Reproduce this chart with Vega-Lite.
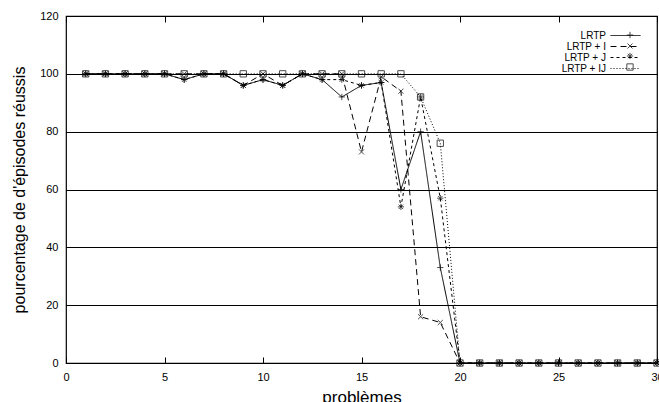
{
  "$schema": "https://vega.github.io/schema/vega-lite/v6.json",
  "width": 591,
  "height": 347,
  "autosize": {"type": "none"},
  "padding": {"left": 66, "top": 16, "right": 2, "bottom": 39},
  "background": "white",
  "config": {
    "font": "Liberation Sans",
    "view": {"stroke": "black", "strokeWidth": 1.2},
    "axis": {"labelFont": "Liberation Sans", "titleFont": "Liberation Sans", "labelColor": "black", "titleColor": "black", "titleFontWeight": "normal", "domain": false, "tickColor": "black"}
  },
  "data": {"values": [
    {"x":1,"s":"LRTP","y":100},{"x":2,"s":"LRTP","y":100},{"x":3,"s":"LRTP","y":100},{"x":4,"s":"LRTP","y":100},{"x":5,"s":"LRTP","y":100},
    {"x":6,"s":"LRTP","y":98},{"x":7,"s":"LRTP","y":100},{"x":8,"s":"LRTP","y":100},{"x":9,"s":"LRTP","y":96},{"x":10,"s":"LRTP","y":98},
    {"x":11,"s":"LRTP","y":96},{"x":12,"s":"LRTP","y":100},{"x":13,"s":"LRTP","y":98},{"x":14,"s":"LRTP","y":92},{"x":15,"s":"LRTP","y":96},
    {"x":16,"s":"LRTP","y":97},{"x":17,"s":"LRTP","y":60},{"x":18,"s":"LRTP","y":80},{"x":19,"s":"LRTP","y":33},{"x":20,"s":"LRTP","y":0},
    {"x":21,"s":"LRTP","y":0},{"x":22,"s":"LRTP","y":0},{"x":23,"s":"LRTP","y":0},{"x":24,"s":"LRTP","y":0},{"x":25,"s":"LRTP","y":0},
    {"x":26,"s":"LRTP","y":0},{"x":27,"s":"LRTP","y":0},{"x":28,"s":"LRTP","y":0},{"x":29,"s":"LRTP","y":0},{"x":30,"s":"LRTP","y":0},

    {"x":1,"s":"LRTP + I","y":100},{"x":2,"s":"LRTP + I","y":100},{"x":3,"s":"LRTP + I","y":100},{"x":4,"s":"LRTP + I","y":100},{"x":5,"s":"LRTP + I","y":100},
    {"x":6,"s":"LRTP + I","y":100},{"x":7,"s":"LRTP + I","y":100},{"x":8,"s":"LRTP + I","y":100},{"x":9,"s":"LRTP + I","y":96},{"x":10,"s":"LRTP + I","y":100},
    {"x":11,"s":"LRTP + I","y":96},{"x":12,"s":"LRTP + I","y":100},{"x":13,"s":"LRTP + I","y":100},{"x":14,"s":"LRTP + I","y":100},{"x":15,"s":"LRTP + I","y":73},
    {"x":16,"s":"LRTP + I","y":99},{"x":17,"s":"LRTP + I","y":94},{"x":18,"s":"LRTP + I","y":16},{"x":19,"s":"LRTP + I","y":14},{"x":20,"s":"LRTP + I","y":0},
    {"x":21,"s":"LRTP + I","y":0},{"x":22,"s":"LRTP + I","y":0},{"x":23,"s":"LRTP + I","y":0},{"x":24,"s":"LRTP + I","y":0},{"x":25,"s":"LRTP + I","y":0},
    {"x":26,"s":"LRTP + I","y":0},{"x":27,"s":"LRTP + I","y":0},{"x":28,"s":"LRTP + I","y":0},{"x":29,"s":"LRTP + I","y":0},{"x":30,"s":"LRTP + I","y":0},

    {"x":1,"s":"LRTP + J","y":100},{"x":2,"s":"LRTP + J","y":100},{"x":3,"s":"LRTP + J","y":100},{"x":4,"s":"LRTP + J","y":100},{"x":5,"s":"LRTP + J","y":100},
    {"x":6,"s":"LRTP + J","y":98},{"x":7,"s":"LRTP + J","y":100},{"x":8,"s":"LRTP + J","y":100},{"x":9,"s":"LRTP + J","y":96},{"x":10,"s":"LRTP + J","y":98},
    {"x":11,"s":"LRTP + J","y":96},{"x":12,"s":"LRTP + J","y":100},{"x":13,"s":"LRTP + J","y":98},{"x":14,"s":"LRTP + J","y":98},{"x":15,"s":"LRTP + J","y":96},
    {"x":16,"s":"LRTP + J","y":97},{"x":17,"s":"LRTP + J","y":54},{"x":18,"s":"LRTP + J","y":92},{"x":19,"s":"LRTP + J","y":57},{"x":20,"s":"LRTP + J","y":0},
    {"x":21,"s":"LRTP + J","y":0},{"x":22,"s":"LRTP + J","y":0},{"x":23,"s":"LRTP + J","y":0},{"x":24,"s":"LRTP + J","y":0},{"x":25,"s":"LRTP + J","y":0},
    {"x":26,"s":"LRTP + J","y":0},{"x":27,"s":"LRTP + J","y":0},{"x":28,"s":"LRTP + J","y":0},{"x":29,"s":"LRTP + J","y":0},{"x":30,"s":"LRTP + J","y":0},

    {"x":1,"s":"LRTP + IJ","y":100},{"x":2,"s":"LRTP + IJ","y":100},{"x":3,"s":"LRTP + IJ","y":100},{"x":4,"s":"LRTP + IJ","y":100},{"x":5,"s":"LRTP + IJ","y":100},
    {"x":6,"s":"LRTP + IJ","y":100},{"x":7,"s":"LRTP + IJ","y":100},{"x":8,"s":"LRTP + IJ","y":100},{"x":9,"s":"LRTP + IJ","y":100},{"x":10,"s":"LRTP + IJ","y":100},
    {"x":11,"s":"LRTP + IJ","y":100},{"x":12,"s":"LRTP + IJ","y":100},{"x":13,"s":"LRTP + IJ","y":100},{"x":14,"s":"LRTP + IJ","y":100},{"x":15,"s":"LRTP + IJ","y":100},
    {"x":16,"s":"LRTP + IJ","y":100},{"x":17,"s":"LRTP + IJ","y":100},{"x":18,"s":"LRTP + IJ","y":92},{"x":19,"s":"LRTP + IJ","y":76},{"x":20,"s":"LRTP + IJ","y":0},
    {"x":21,"s":"LRTP + IJ","y":0},{"x":22,"s":"LRTP + IJ","y":0},{"x":23,"s":"LRTP + IJ","y":0},{"x":24,"s":"LRTP + IJ","y":0},{"x":25,"s":"LRTP + IJ","y":0},
    {"x":26,"s":"LRTP + IJ","y":0},{"x":27,"s":"LRTP + IJ","y":0},{"x":28,"s":"LRTP + IJ","y":0},{"x":29,"s":"LRTP + IJ","y":0},{"x":30,"s":"LRTP + IJ","y":0}
  ]},
  "resolve": {"scale": {"x": "independent", "y": "independent"}},
  "layer": [
    {
      "layer": [
        {
          "mark": {"type": "line", "color": "black", "strokeWidth": 1},
          "encoding": {
            "strokeDash": {"field": "s", "type": "nominal",
              "scale": {"domain": ["LRTP", "LRTP + I", "LRTP + J", "LRTP + IJ"], "range": [[1, 0], [6, 4], [3, 3], [1, 2]]},
              "legend": {"title": null, "orient": "top-right", "offset": 14, "symbolType": "M-3,0L3,0", "symbolSize": 100, "symbolStrokeColor": "black", "symbolStrokeWidth": 1, "labelFontSize": 10, "labelColor": "black", "rowPadding": -5.5, "labelAlign": "right", "labelOffset": -25, "padding": 0}}
          }
        },
        {
          "mark": {"type": "point", "color": "black", "filled": false, "strokeWidth": 1, "size": 40},
          "encoding": {
            "shape": {"field": "s", "type": "nominal",
              "scale": {"domain": ["LRTP", "LRTP + I", "LRTP + J", "LRTP + IJ"], "range": ["M-1,0L1,0M0,-1L0,1", "M-0.8,-0.8L0.8,0.8M-0.8,0.8L0.8,-0.8", "M-1,0L1,0M0,-1L0,1M-0.7,-0.7L0.7,0.7M-0.7,0.7L0.7,-0.7", "square"]},
              "legend": {"title": null, "orient": "none", "legendX": 559, "legendY": 14, "symbolSize": 40, "symbolStrokeColor": "black", "symbolFillColor": "white", "symbolStrokeWidth": 1, "labelFontSize": 10, "labelOpacity": 0, "rowPadding": -5.5, "padding": 0}}
          }
        }
      ],
      "encoding": {
        "x": {"field": "x", "type": "quantitative", "scale": {"domain": [0, 30], "nice": false},
          "axis": {"title": "problèmes", "titleFontSize": 17, "titlePadding": 7, "labelFontSize": 11, "values": [0,5,10,15,20,25,30], "tickSize": -6, "labelPadding": 14, "grid": false, "labelFlush": false}},
        "y": {"field": "y", "type": "quantitative", "scale": {"domain": [0, 120], "nice": false},
          "axis": {"title": "pourcentage de d'épisodes réussis", "titleFontSize": 16, "titlePadding": 12, "labelFontSize": 11, "values": [0,20,40,60,80,100,120], "tickSize": -6, "labelPadding": 14, "grid": true, "gridColor": "black", "gridOpacity": 1, "gridWidth": 1}}
      }
    },
    {
      "mark": {"type": "point", "opacity": 0},
      "encoding": {
        "x": {"field": "x", "type": "quantitative", "scale": {"domain": [0, 30], "nice": false},
          "axis": {"orient": "top", "title": null, "labels": false, "values": [0,5,10,15,20,25,30], "tickSize": -6, "grid": false}},
        "y": {"field": "y", "type": "quantitative", "scale": {"domain": [0, 120], "nice": false},
          "axis": {"orient": "right", "title": null, "labels": false, "values": [0,20,40,60,80,100,120], "tickSize": -6, "grid": false}}
      }
    }
  ]
}
